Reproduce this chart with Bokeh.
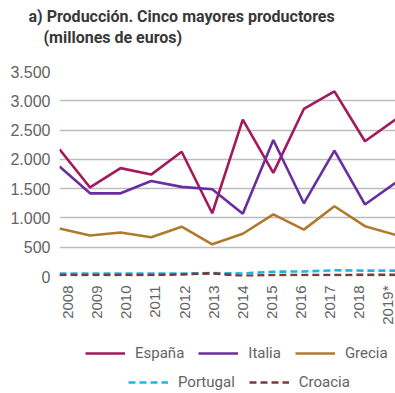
import math
from bokeh.plotting import figure
from bokeh.layouts import column
from bokeh.models import Range1d, LinearAxis, FixedTicker, Legend, LegendItem, Title
from bokeh.embed import file_html
from bokeh.resources import INLINE

# ---- data ----
years = [2008, 2009, 2010, 2011, 2012, 2013, 2014, 2015, 2016, 2017, 2018, 2019]
year_labels = ["2008", "2009", "2010", "2011", "2012", "2013", "2014", "2015", "2016", "2017", "2018", "2019*"]
espana = [2170, 1520, 1850, 1740, 2130, 1080, 2680, 1770, 2860, 3160, 2310, 2680]
italia = [1880, 1420, 1420, 1630, 1530, 1490, 1070, 2330, 1250, 2150, 1230, 1600]
grecia = [820, 700, 750, 670, 850, 550, 730, 1060, 800, 1200, 860, 710]
portugal = [50, 50, 50, 50, 50, 58, 52, 82, 86, 106, 100, 100]
croacia = [25, 25, 25, 25, 35, 55, 8, 25, 25, 25, 28, 28]
y_ticks = [0, 500, 1000, 1500, 2000, 2500, 3000, 3500]
y_tick_labels = ["0", "500", "1.000", "1.500", "2.000", "2.500", "3.000", "3.500"]
series_names = ["España", "Italia", "Grecia", "Portugal", "Croacia"]
title_line1 = "a) Producción. Cinco mayores productores"
title_line2 = "(millones de euros)"

colors = ["#A3195B", "#6A2D9F", "#B07A2C", "#1CB5EA", "#7A3B3A"]
dashes = ["solid", "solid", "solid", "7 4", "7 4"]
TICK_FONT = "Liberation Sans"
LEG_FONT = "Roboto"
TITLE_FONT = "Roboto"
GREY = "#636363"

p = figure(width=395, height=330, output_backend="svg", toolbar_location=None,
           x_range=Range1d(years[0], years[-1]), y_range=Range1d(y_ticks[0], y_ticks[-1]),
           x_axis_location=None,
           min_border_left=59, min_border_right=0, min_border_top=71, min_border_bottom=54)
p.outline_line_color = None
p.background_fill_color = "white"
p.border_fill_color = "white"

# y axis
yax = p.yaxis[0]
yax.ticker = FixedTicker(ticks=y_ticks)
yax.major_label_overrides = {t: l for t, l in zip(y_ticks, y_tick_labels)}
yax.axis_line_color = None
yax.major_tick_line_color = None
yax.minor_tick_line_color = None
yax.major_tick_out = 0
yax.major_label_standoff = 9
yax.major_label_text_font = TICK_FONT
yax.major_label_text_font_size = "16px"
yax.major_label_text_color = GREY

for g in p.xgrid:
    g.visible = False
p.ygrid[0].ticker = FixedTicker(ticks=y_ticks)
p.ygrid[0].grid_line_color = "#BDBDBD"
p.ygrid[0].grid_line_width = 1.3

# x axis on its own label range
p.extra_x_ranges = {"lab": Range1d(2007.714, 2019.28)}
xax = LinearAxis(x_range_name="lab")
xax.ticker = FixedTicker(ticks=years)
xax.major_label_overrides = {y: l for y, l in zip(years, year_labels)}
xax.major_label_orientation = math.pi / 2
xax.axis_line_color = None
xax.major_tick_line_color = None
xax.minor_tick_line_color = None
xax.major_tick_out = 0
xax.major_label_standoff = 9
xax.major_label_text_font = TICK_FONT
xax.major_label_text_font_size = "15px"
xax.major_label_text_color = GREY
p.add_layout(xax, "below")

# lines
series = [espana, italia, grecia, portugal, croacia]
for vals, c, d in zip(series, colors, dashes):
    p.line(years, vals, line_color=c, line_width=2.6, line_dash=d)

# spacer between plot area and title
p.add_layout(Title(text=" ", text_font_size="1px", standoff=22), "above")

# titles
p.add_layout(Title(text=title_line2, align="left", offset=-16, standoff=0, text_font=TITLE_FONT,
                   text_font_size="16px", text_font_style="bold", text_color="#383838"), "above")
p.add_layout(Title(text=title_line1, align="left", offset=-31, standoff=0, text_font=TITLE_FONT,
                   text_font_size="16px", text_font_style="bold", text_color="#383838"), "above")

# legend figure (its renderers lie outside its own ranges; only the legend shows)
p2 = figure(width=395, height=63, output_backend="svg", toolbar_location=None,
            x_range=Range1d(0, 1), y_range=Range1d(0, 1),
            x_axis_location=None, y_axis_location=None, min_border=0)
p2.outline_line_color = None
p2.grid.visible = False
leg_r = []
for vals, c, d in zip(series, colors, dashes):
    leg_r.append(p2.line(years, vals, line_color=c, line_width=2.6, line_dash=d))

def make_legend(idx, loc):
    return Legend(items=[LegendItem(label=series_names[i], renderers=[leg_r[i]]) for i in idx],
                  orientation="horizontal", location=loc,
                  glyph_width=40, glyph_height=20, label_height=20,
                  label_standoff=10, spacing=14, padding=0, margin=0,
                  border_line_color=None, background_fill_alpha=0,
                  label_text_font=LEG_FONT, label_text_font_size="15px",
                  label_text_color=GREY)

p2.add_layout(make_legend([0, 1, 2], (26, 30)))
p2.add_layout(make_legend([3, 4], (69, 1)))

layout = column(p, p2, spacing=0)
open("out.html", "w").write(file_html(layout, INLINE))
